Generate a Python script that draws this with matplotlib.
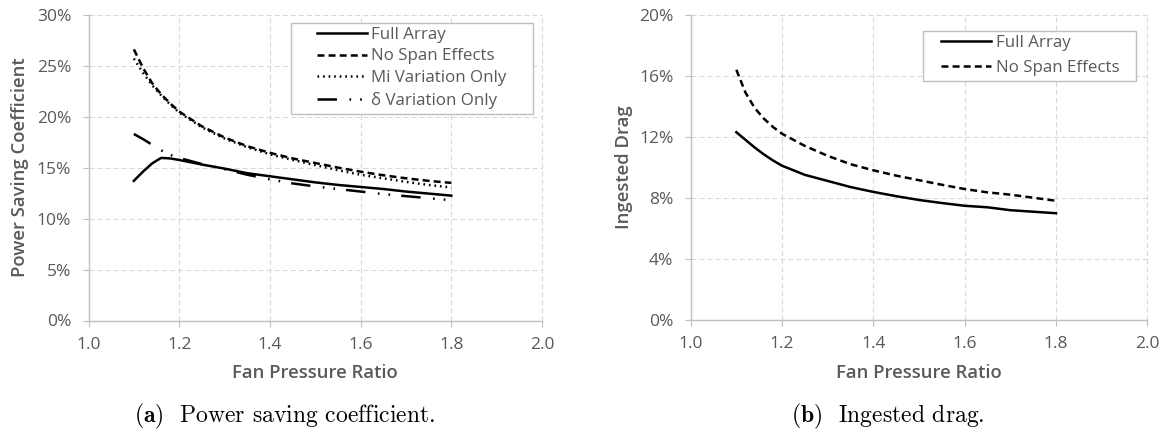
import matplotlib
matplotlib.use("Agg")
import matplotlib.pyplot as plt
from matplotlib.patches import Rectangle
from matplotlib.ticker import FuncFormatter

plt.rcParams['lines.scale_dashes'] = False
plt.rcParams['mathtext.fontset'] = 'cm'

# ---------------- data ----------------
fpr = [1.10, 1.12, 1.14, 1.16, 1.18, 1.20, 1.25, 1.30, 1.35, 1.40, 1.45,
       1.50, 1.55, 1.60, 1.65, 1.70, 1.75, 1.80]

psc_full_array = [13.7, 14.6, 15.4, 15.95, 15.9, 15.75, 15.3, 14.9, 14.45, 14.15,
                  13.85, 13.55, 13.3, 13.1, 12.9, 12.65, 12.45, 12.25]
psc_no_span = [26.6, 24.8, 23.3, 22.2, 21.3, 20.5, 19.05, 17.95, 17.1, 16.45,
               15.9, 15.45, 15.0, 14.6, 14.25, 13.95, 13.7, 13.5]
psc_mi_only = [25.7, 24.3, 23.1, 22.1, 21.2, 20.4, 18.95, 17.85, 17.0, 16.3,
               15.75, 15.25, 14.75, 14.3, 13.95, 13.6, 13.3, 13.05]
psc_delta_only = [18.3, 17.8, 17.25, 16.7, 16.25, 15.95, 15.35, 14.85, 14.3, 13.85,
                  13.45, 13.15, 12.9, 12.65, 12.4, 12.2, 12.0, 11.8]

drag_full_array = [12.3, 11.8, 11.3, 10.85, 10.45, 10.1, 9.5, 9.1, 8.7, 8.38,
                   8.1, 7.85, 7.65, 7.47, 7.37, 7.18, 7.08, 6.98]
drag_no_span = [16.4, 14.9, 13.9, 13.2, 12.65, 12.2, 11.4, 10.75, 10.2, 9.8,
                9.45, 9.15, 8.85, 8.57, 8.35, 8.2, 8.0, 7.8]

x_ticks = [1.0, 1.2, 1.4, 1.6, 1.8, 2.0]
left_yticks = [0, 5, 10, 15, 20, 25, 30]
right_yticks = [0, 4, 8, 12, 16, 20]

labels_left = ["Full Array", "No Span Effects", "Mi Variation Only", "δ Variation Only"]
labels_right = ["Full Array", "No Span Effects"]
x_label = "Fan Pressure Ratio"
y_label_left = "Power Saving Coefficient"
y_label_right = "Ingested Drag"
caption_left = r"$\mathbf{(a)}$  Power saving coefficient."
caption_right = r"$\mathbf{(b)}$  Ingested drag."

# ---------------- style ----------------
TXT = '#595959'
GRID = '#d9d9d9'
SPINE = '#bfbfbf'
FONT = 'Open Sans'
LW = 1.8
TICK_FS = 12.5
LABEL_FS = 13.3
LEG_FS = 12.2
CAP_FS = 17
styles = ['-', (0, (5, 3)), (0, (1.2, 2.8)), (0, (14, 9, 1.2, 6.5, 1.2, 8))]

W, H = 1169, 434
fig = plt.figure(figsize=(W / 100, H / 100), dpi=100)


def px_axes(x0, x1, ytop, ybot):
    return fig.add_axes([x0 / W, 1 - ybot / H, (x1 - x0) / W, (ybot - ytop) / H])


def style_axes(ax, yticks, ylabel):
    ax.set_xlim(1.0, 2.0)
    ax.set_ylim(yticks[0], yticks[-1])
    ax.set_xticks(x_ticks)
    ax.set_yticks(yticks)
    ax.xaxis.set_major_formatter(FuncFormatter(lambda v, p: f"{v:.1f}"))
    ax.yaxis.set_major_formatter(FuncFormatter(lambda v, p: f"{v:.0f}%"))
    for s in ['top', 'right']:
        ax.spines[s].set_visible(False)
    for s in ['left', 'bottom']:
        ax.spines[s].set_color(SPINE)
        ax.spines[s].set_linewidth(1.0)
    ax.tick_params(axis='both', direction='out', length=4.5, width=0.8,
                   color=SPINE, labelcolor=TXT, labelsize=TICK_FS)
    ax.tick_params(axis='y', pad=8.0)
    ax.tick_params(axis='x', pad=7.5)
    for lab in ax.get_xticklabels() + ax.get_yticklabels():
        lab.set_fontfamily(FONT)
    ax.grid(True, color=GRID, linestyle=(0, (3.6, 2.2)), linewidth=0.8)
    for gl in ax.get_xgridlines() + ax.get_ygridlines():
        gl.set_clip_on(False)
    ax.set_axisbelow(True)
    ax.set_xlabel(x_label, fontfamily=FONT, fontweight='semibold', fontsize=LABEL_FS, color=TXT)
    ax.set_ylabel(ylabel, fontfamily=FONT, fontweight='semibold', fontsize=LABEL_FS, color=TXT)


# ---------------- left panel ----------------
axL = px_axes(88.5, 542.0, 14.7, 320.5)
style_axes(axL, left_yticks, y_label_left)
series_left = [psc_full_array, psc_no_span, psc_mi_only, psc_delta_only]
handles = []
for vals, ls, lab in zip(series_left, styles, labels_left):
    h, = axL.plot(fpr, vals, color='black', linestyle=ls, linewidth=LW, label=lab)
    handles.append(h)
axL.xaxis.set_label_coords(0.5, -(372.7 - 320.5) / 305.8)
axL.xaxis.label.set_va('center')
axL.yaxis.set_label_coords(-68 / 453.5, 0.5)
axL.yaxis.label.set_va('center')
axL.add_patch(Rectangle((0.446, 0.675), 0.981 - 0.446, 0.974 - 0.675,
                        transform=axL.transAxes, facecolor='white',
                        edgecolor=SPINE, linewidth=1.0, zorder=4, clip_on=False))
legL = axL.legend(handles=handles, loc='center left', bbox_to_anchor=(0.503, 0.826),
                  frameon=False, borderpad=0, borderaxespad=0, handlelength=3.0,
                  handletextpad=0.2, labelspacing=0.35,
                  prop={'family': FONT, 'size': LEG_FS})
legL.set_zorder(5)
for t in legL.get_texts():
    t.set_color(TXT)

# ---------------- right panel ----------------
axR = px_axes(690.7, 1147.3, 15.0, 319.5)
style_axes(axR, right_yticks, y_label_right)
handles = []
for vals, ls, lab in zip([drag_full_array, drag_no_span], styles[:2], labels_right):
    h, = axR.plot(fpr, vals, color='black', linestyle=ls, linewidth=LW, label=lab)
    handles.append(h)
axR.xaxis.set_label_coords(0.5, -(372.7 - 319.5) / 304.5)
axR.xaxis.label.set_va('center')
axR.yaxis.set_label_coords(-67 / 456.6, 0.5)
axR.yaxis.label.set_va('center')
axR.add_patch(Rectangle((0.509, 0.783), 0.9746 - 0.509, 0.948 - 0.783,
                        transform=axR.transAxes, facecolor='white',
                        edgecolor=SPINE, linewidth=1.0, zorder=4, clip_on=False))
legR = axR.legend(handles=handles, loc='center left', bbox_to_anchor=(0.5475, 0.866),
                  frameon=False, borderpad=0, borderaxespad=0, handlelength=2.95,
                  handletextpad=0.3, labelspacing=0.53,
                  prop={'family': FONT, 'size': LEG_FS})
legR.set_zorder(5)
for t in legR.get_texts():
    t.set_color(TXT)

# ---------------- captions ----------------
fig.text(284 / W, 1 - 416.7 / H, caption_left, ha='center', va='center',
         fontfamily='cmr10', fontsize=CAP_FS, color='black')
fig.text(888 / W, 1 - 416.7 / H, caption_right, ha='center', va='center',
         fontfamily='cmr10', fontsize=CAP_FS, color='black')

fig.savefig('out.png', dpi=100)
